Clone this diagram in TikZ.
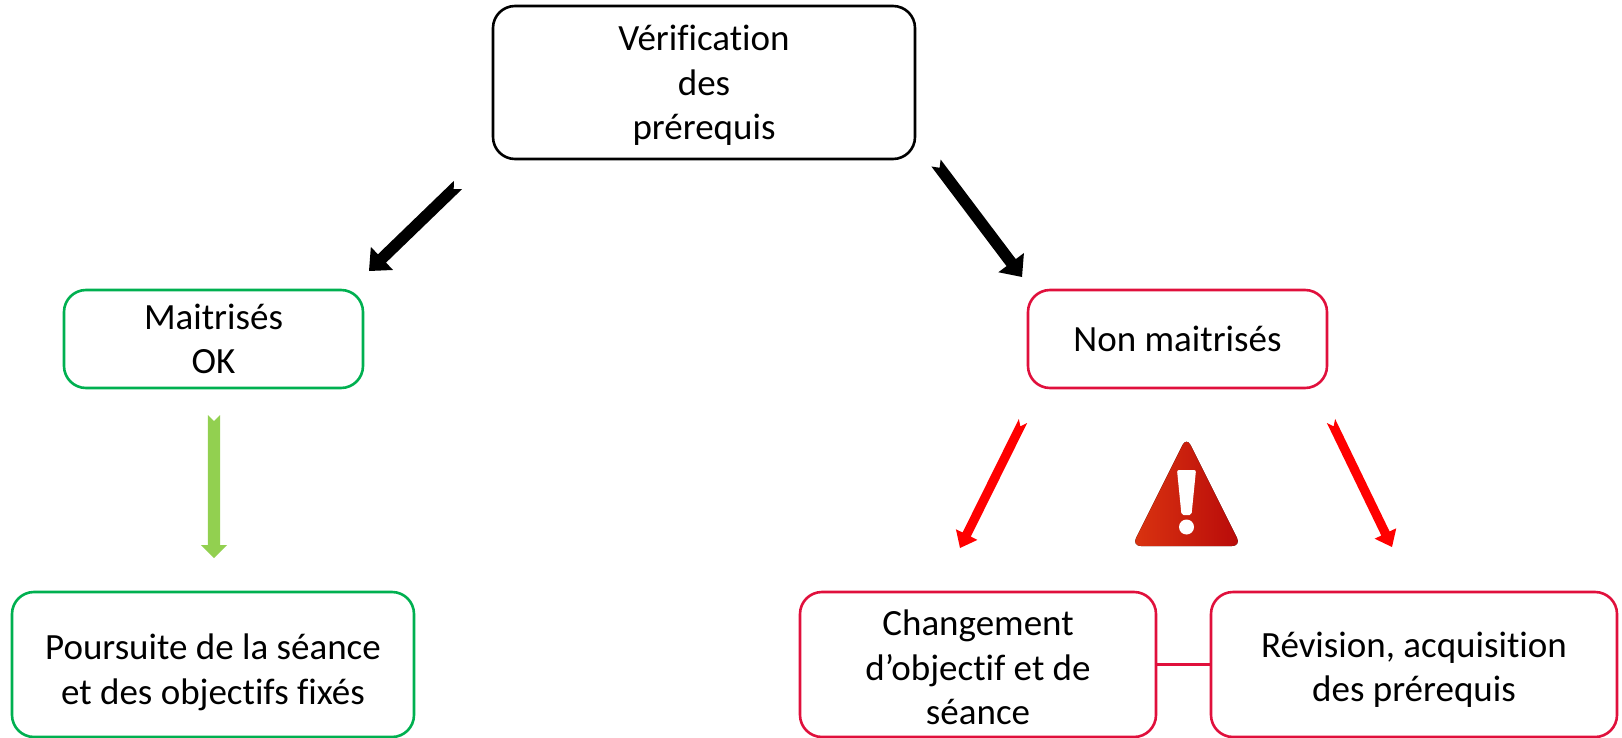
\documentclass[tikz,border=0pt]{standalone}
\usepackage{fontspec}
\setmainfont{Carlito}[Ligatures={NoCommon,NoContextual}]
\usetikzlibrary{calc}
\definecolor{okgreen}{HTML}{00B050}
\definecolor{nokred}{HTML}{E0103C}
\definecolor{arrgreen}{HTML}{92D050}
\definecolor{arrred}{HTML}{FF0000}
\definecolor{warnA}{HTML}{DA3410}
\definecolor{warnB}{HTML}{B80A0A}
\newcommand\blockarr[7]{%
\fill[#7] let \p1=($(#2)-(#1)$), \n1={atan2(\y1,\x1)}, \n2={veclen(\x1,\y1)} in
 ($(#1)+(\n1+90:#3)$) -- ($(#1)+(\n1:\n2-#5)+(\n1+90:#3)$) -- ($(#1)+(\n1:\n2-#5)+(\n1+90:#4)$)
 -- (#2) -- ($(#1)+(\n1:\n2-#5)+(\n1-90:#4)$) -- ($(#1)+(\n1:\n2-#5)+(\n1-90:#3)$)
 -- ($(#1)+(\n1-90:#3)$) -- ($(#1)+(\n1:#6)$) -- cycle;}
\tikzset{
  boxtext/.style={align=center, inner sep=0pt, font=\fontsize{37}{44.5}\selectfont},
  boxbase/.style={draw, line width=2.6pt, rounded corners=22pt, boxtext},
  blackbox/.style={boxbase, draw=black},
  greenbox/.style={boxbase, draw=okgreen},
  redbox/.style={boxbase, draw=nokred},
}
\begin{document}
\begin{tikzpicture}[x=1pt,y=-1pt]
\useasboundingbox (0,0) rectangle (1622,738);
\node[blackbox, minimum width=422pt, minimum height=153pt,
  label={[boxtext, yshift=-3pt]center:{Vérification\\des\\prérequis}}] (top) at (704,82.5) {};
\node[greenbox, minimum width=299pt, minimum height=98pt] (ok) at (213.5,339) {Maitrisés\\OK};
\node[redbox, minimum width=299pt, minimum height=98pt] (nok) at (1177.5,339) {Non maitrisés};
\node[greenbox, minimum width=402pt, minimum height=145pt,
  label={[boxtext, yshift=-8pt]center:{Poursuite de la séance\\et des objectifs fixés}}] (pours) at (213,664.5) {};
\node[redbox, minimum width=356pt, minimum height=145pt,
  label={[boxtext, yshift=-3pt]center:{Changement\\d’objectif et de\\séance}}] (chg) at (978,664.5) {};
\node[redbox, minimum width=406pt, minimum height=145pt,
  label={[boxtext, yshift=-5pt]center:{Révision, acquisition\\des prérequis}}] (rev) at (1414,664.5) {};
\draw[nokred, line width=2.2pt] (chg.east) -- (rev.west);
% arrow anchors
\coordinate (b1s) at (458,185);
\coordinate (b1e) at (369,271);
\coordinate (b2s) at (936,163);
\coordinate (b2e) at (1022,277);
\coordinate (gs) at (214,415);
\coordinate (ge) at (214,558);
\coordinate (r1s) at (1023,421);
\coordinate (r1e) at (960,548);
\coordinate (r2s) at (1331,421);
\coordinate (r2e) at (1392,547);
\blockarr{b1s}{b1e}{5.8pt}{16pt}{18pt}{6pt}{black}
\blockarr{b2s}{b2e}{5.8pt}{16pt}{18pt}{6pt}{black}
\blockarr{gs}{ge}{6.2pt}{13pt}{13pt}{6pt}{arrgreen}
\blockarr{r1s}{r1e}{4.6pt}{12pt}{15pt}{6pt}{arrred}
\blockarr{r2s}{r2e}{4.6pt}{12pt}{15pt}{6pt}{arrred}
% warning sign
\fill[left color=warnA, right color=warnB, rounded corners=9pt] (1186.5,437) -- (1241,546) -- (1132,546) -- cycle;
\fill[white, rounded corners=2pt] (1177,470) -- (1196,470) -- (1191.5,515) -- (1181.5,515) -- cycle;
\fill[white] (1186.5,527) circle (7.5);
\end{tikzpicture}
\end{document}
